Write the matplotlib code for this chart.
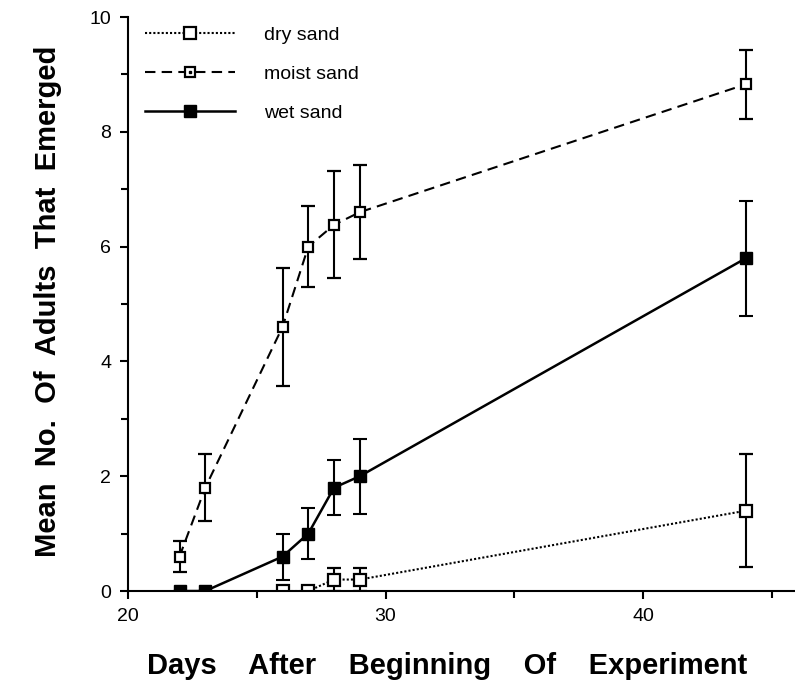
import matplotlib
matplotlib.use('Agg')
import matplotlib.pyplot as plt
from matplotlib.lines import Line2D
from matplotlib.legend_handler import HandlerTuple

plt.rcParams['font.family'] = ['Liberation Sans', 'DejaVu Sans']

# days after start
days = [22, 23, 26, 27, 28, 29, 44]
days_dry = [26, 27, 28, 29, 44]

# mean no. of adults emerged and error bars
dry = [0.0, 0.0, 0.2, 0.2, 1.4]
dry_err = [0.0, 0.0, 0.2, 0.2, 0.98]
moist = [0.6, 1.8, 4.6, 6.0, 6.38, 6.6, 8.83]
moist_err = [0.27, 0.58, 1.03, 0.7, 0.93, 0.82, 0.6]
wet = [0.0, 0.0, 0.6, 1.0, 1.8, 2.0, 5.8]
wet_err = [0.0, 0.0, 0.4, 0.45, 0.48, 0.65, 1.0]

fig = plt.figure(figsize=(7.95, 6.82), dpi=100)
ax = fig.add_axes([0.161, 0.1334, 0.839, 0.8416])

eb = dict(ecolor='black', elinewidth=1.5, capsize=5, capthick=1.5)
dry_style = dict(color='black', lw=1.5, ls=(0, (1, 1)), marker='s', ms=8, mfc='white', mec='black', mew=1.6)
moist_style = dict(color='black', lw=1.5, ls=(0, (5, 3)), marker='s', ms=7, mfc='white', mec='black', mew=1.6)
wet_style = dict(color='black', lw=1.8, ls='-', marker='s', ms=8, mfc='black', mec='black')
dot_style = dict(ls='none', marker='s', ms=1.8, color='black')

ax.errorbar(days_dry, dry, yerr=dry_err, **dry_style, **eb)
ax.errorbar(days, moist, yerr=moist_err, **moist_style, **eb)
ax.plot(days, moist, **dot_style)
ax.errorbar(days, wet, yerr=wet_err, **wet_style, **eb)

ax.set_xlim(20, 45.9)
ax.set_ylim(0, 10)
ax.spines['top'].set_visible(False)
ax.spines['right'].set_visible(False)
ax.spines['left'].set_linewidth(1.5)
ax.spines['bottom'].set_linewidth(1.5)

ax.set_xticks([20, 30, 40])
ax.set_xticks([25, 35, 45], minor=True)
ax.set_yticks([0, 2, 4, 6, 8, 10])
ax.set_yticks([1, 3, 5, 7, 9], minor=True)
ax.tick_params(which='major', direction='out', length=6, width=1.5, labelsize=14, pad=6)
ax.tick_params(which='minor', direction='out', length=5, width=1.5)

ax.set_xlabel('Days    After    Beginning    Of    Experiment', fontsize=21, fontweight='bold', labelpad=20)
ax.xaxis.label.set_x(0.478)
ax.set_ylabel('Mean  No.  Of  Adults  That  Emerged', fontsize=21, fontweight='bold', labelpad=20)
ax.yaxis.label.set_y(0.505)

handles = [Line2D([], [], **dry_style),
           (Line2D([], [], **moist_style), Line2D([], [], **dot_style)),
           Line2D([], [], **wet_style)]
ax.legend(handles, ['dry sand', 'moist sand', 'wet sand'],
          handler_map={tuple: HandlerTuple(ndivide=1, pad=0)},
          loc='upper left', bbox_to_anchor=(0.0, 1.015), frameon=False,
          fontsize=14, handlelength=4.6, labelspacing=1.1, handletextpad=1.5)

fig.savefig('out.png', dpi=100)
